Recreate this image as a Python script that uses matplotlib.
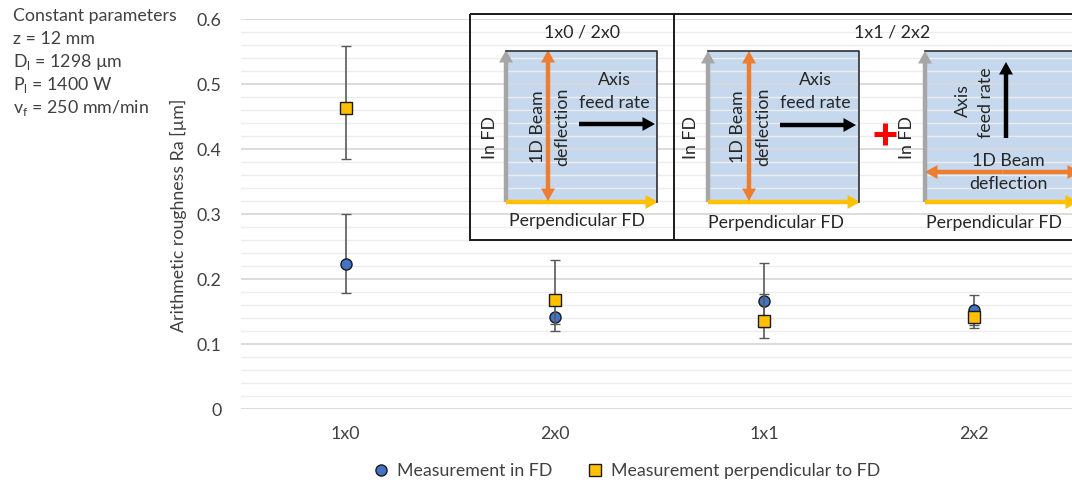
import matplotlib
matplotlib.use("Agg")
import matplotlib.pyplot as plt
from matplotlib.patches import Rectangle, FancyArrowPatch
from matplotlib.lines import Line2D
import numpy as np

plt.rcParams['font.family'] = ['Lato', 'DejaVu Sans']

categories = ['1x0', '2x0', '1x1', '2x2']
fd_mean = [0.223, 0.141, 0.167, 0.152]
fd_err_low = [0.044, 0.021, 0.057, 0.023]
fd_err_high = [0.077, 0.005, 0.058, 0.024]
perp_mean = [0.463, 0.168, 0.136, 0.141]
perp_err_low = [0.078, 0.037, 0.010, 0.016]
perp_err_high = [0.096, 0.061, 0.041, 0.008]
y_ticks = [0, 0.1, 0.2, 0.3, 0.4, 0.5, 0.6]
y_tick_labels = ['0', '0.1', '0.2', '0.3', '0.4', '0.5', '0.6']
params_text = ['Constant parameters', 'z = 12 mm', r'D$_\mathregular{l}$ = 1298 µm',
               r'P$_\mathregular{l}$ = 1400 W', r'v$_\mathregular{f}$ = 250 mm/min']

W, H = 1072, 486
fig = plt.figure(figsize=(W / 100, H / 100), dpi=100)
FS = 12.8
TXT = '#404040'

# background overlay (pixel coords) for blue panels
bg = fig.add_axes([0, 0, 1, 1], zorder=0)
bg.set_xlim(0, W); bg.set_ylim(H, 0); bg.axis('off')
blue = '#C5D8EE'
for (x0, x1) in [(506, 657), (708, 859), (925, 1080)]:
    bg.add_patch(Rectangle((x0, 51), x1 - x0, 151, facecolor=blue, edgecolor='none'))

# main axes
left_px, right_px, top_px, bot_px = 241, 1072, 19.5, 409
ax = fig.add_axes([left_px / W, (H - bot_px) / H, (right_px - left_px) / W, (bot_px - top_px) / H], zorder=1)
ax.patch.set_alpha(0)
x = np.arange(len(categories))
ax.set_xlim(-0.5, 3.47)
ax.set_ylim(0, 0.6)
ax.set_yticks(y_ticks)
ax.set_yticklabels(y_tick_labels)
ax.set_yticks(np.arange(0, 0.601, 0.02), minor=True)
ax.set_xticks(x)
ax.set_xticklabels(categories)
ax.tick_params(axis='both', which='both', length=0, labelsize=FS, labelcolor=TXT)
ax.tick_params(axis='y', pad=14)
ax.tick_params(axis='x', pad=12)
ax.grid(axis='y', which='minor', color='#EDEDED', lw=1.0)
ax.grid(axis='y', which='major', color='#D9D9D9', lw=1.3)
ax.set_axisbelow(True)
for s in ax.spines.values():
    s.set_visible(False)

ax.errorbar(x, fd_mean, yerr=[fd_err_low, fd_err_high], fmt='o', ms=8, mfc='#4472C4', mec='#1a1a1a',
            mew=1.0, ecolor='#595959', elinewidth=1.2, capsize=3.5, capthick=1.2, zorder=3)
ax.errorbar(x, perp_mean, yerr=[perp_err_low, perp_err_high], fmt='s', ms=8, mfc='#FFC000', mec='#1a1a1a',
            mew=1.0, ecolor='#595959', elinewidth=1.2, capsize=3.5, capthick=1.2, zorder=4)

fig.text(178 / W, 1 - 215 / H, 'Arithmetic roughness Ra [µm]', rotation=90, ha='center', va='center',
         fontsize=FS, color=TXT)

for i, t in enumerate(params_text):
    fig.text(13 / W, 1 - (16 + 23 * i) / H, t, ha='left', va='center', fontsize=FS, color=TXT)

# legend
handles = [Line2D([], [], ls='none', marker='o', ms=8, mfc='#4472C4', mec='#1a1a1a', mew=1.0),
           Line2D([], [], ls='none', marker='s', ms=8, mfc='#FFC000', mec='#1a1a1a', mew=1.0)]
leg = fig.legend(handles, ['Measurement in FD', 'Measurement perpendicular to FD'], loc='center',
                 bbox_to_anchor=(627 / W, 1 - 471 / H), ncol=2, frameon=False, fontsize=FS,
                 handlelength=0.8, handletextpad=0.5, columnspacing=2.0)
for t in leg.get_texts():
    t.set_color(TXT)

# foreground overlay for diagrams
ov = fig.add_axes([0, 0, 1, 1], zorder=2)
ov.set_xlim(0, W); ov.set_ylim(H, 0); ov.axis('off')

GRAY, ORANGE, YELLOW, BLACK = '#A6A6A6', '#ED7D31', '#FFC000', '#000000'

def arrow(p0, p1, color):
    ov.add_patch(FancyArrowPatch(p0, p1, arrowstyle='simple,head_length=0.9,head_width=1.0,tail_width=0.32',
                                 mutation_scale=10, color=color, lw=0, shrinkA=0, shrinkB=0))

def darrow(p0, p1, color):
    m = ((p0[0] + p1[0]) / 2, (p0[1] + p1[1]) / 2)
    arrow(m, p0, color)
    arrow(m, p1, color)

def txt(xp, yp, s, rot=0, **kw):
    ov.text(xp, yp, s, rotation=rot, ha='center', va='center', fontsize=FS, color='#262626', **kw)

# frames
ov.add_patch(Rectangle((470, 14), 620, 226, facecolor='none', edgecolor='#1a1a1a', lw=1.4))
ov.plot([674, 674], [14, 240], color='#1a1a1a', lw=1.4)

# panel rect edges (top and right)
for (x0, x1) in [(506, 657), (708, 859)]:
    ov.plot([x0, x1, x1], [51, 51, 202], color='#303030', lw=1.2)
ov.plot([925, 1080], [51, 51], color='#303030', lw=1.2)

# panel 1
txt(582, 33, '1x0 / 2x0')
arrow((506, 202), (506, 50), GRAY)
arrow((506, 202), (658, 202), YELLOW)
darrow((548, 50), (548, 201), ORANGE)
arrow((579, 124), (655, 124), BLACK)
txt(614, 80, 'Axis')
txt(614, 103, 'feed rate')
txt(538, 127, '1D Beam', rot=90)
txt(562, 127, 'deflection', rot=90)
txt(490, 137, 'In FD', rot=90)
txt(577, 221, 'Perpendicular FD')

# panel 2
txt(892, 33, '1x1 / 2x2')
arrow((708, 202), (708, 51), GRAY)
arrow((708, 202), (860, 202), YELLOW)
darrow((749, 51), (749, 201), ORANGE)
arrow((780, 125), (856, 125), BLACK)
txt(815, 80, 'Axis')
txt(815, 103, 'feed rate')
txt(738, 127, '1D Beam', rot=90)
txt(763, 127, 'deflection', rot=90)
txt(691, 137, 'In FD', rot=90)
txt(776, 223, 'Perpendicular FD')

# plus
ov.plot([874, 896], [134, 134], color='#FF0000', lw=3.6, solid_capstyle='butt')
ov.plot([885, 885], [123, 145], color='#FF0000', lw=3.6, solid_capstyle='butt')

# panel 3
arrow((925, 202), (925, 51), GRAY)
arrow((925, 202), (1078, 202), YELLOW)
darrow((925, 172), (1080, 172), ORANGE)
arrow((1006, 138), (1006, 62), BLACK)
txt(963, 100, 'Axis', rot=90)
txt(986, 103, 'feed rate', rot=90)
txt(1008, 161, '1D Beam')
txt(1008, 184, 'deflection')
txt(907, 137, 'In FD', rot=90)
txt(994, 223, 'Perpendicular FD')

fig.savefig('out.png', dpi=100)
